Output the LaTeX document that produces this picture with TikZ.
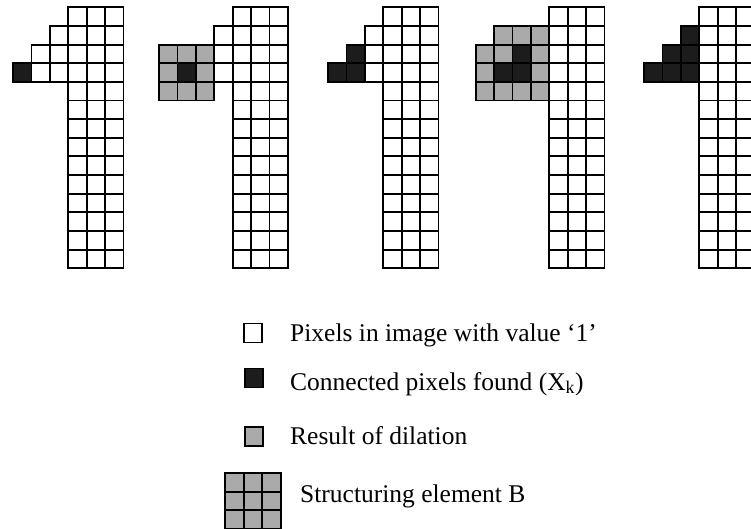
\documentclass[tikz,border=0pt]{standalone}
\usepackage{fontspec}
\setmainfont{Liberation Serif}
\definecolor{pxgray}{RGB}{170,170,170}
\definecolor{pxblack}{RGB}{28,28,28}
\tikzset{
  px/.style={draw=black, line width=1.9pt},
  wpx/.style={px, fill=white},
  gpx/.style={px, fill=pxgray},
  bpx/.style={px, fill=pxblack},
  lsq/.style={draw=black, line width=1.6pt},
  ltext/.style={anchor=base west, inner sep=0pt, font=\fontsize{25.5}{30}\selectfont},
}
\newcommand\pcell[4]{%
  \path[#4] ({#1+(#2)*18.4},{7.3+(#3)*18.64}) rectangle ++(18.4,18.64);%
}
\newcommand\baseshape[1]{%
  \foreach \r in {0,...,13}{\foreach \c in {0,1,2}{\pcell{#1}{\c}{\r}{wpx}}}%
  \pcell{#1}{-1}{1}{wpx}%
  \pcell{#1}{-2}{2}{wpx}\pcell{#1}{-1}{2}{wpx}%
  \pcell{#1}{-3}{3}{wpx}\pcell{#1}{-2}{3}{wpx}\pcell{#1}{-1}{3}{wpx}%
}
\begin{document}
\begin{tikzpicture}[x=1pt,y=-1pt]
\useasboundingbox (0,0) rectangle (751,529);
\clip (0,0) rectangle (751,529);
% Figure 1
\baseshape{68.3}
\pcell{68.3}{-3}{3}{bpx}
% Figure 2
\baseshape{232.7}
\foreach \r in {2,3,4}{\foreach \c in {-4,-3,-2}{\pcell{232.7}{\c}{\r}{gpx}}}
\pcell{232.7}{-3}{3}{bpx}
% Figure 3
\baseshape{383.3}
\pcell{383.3}{-2}{2}{bpx}
\pcell{383.3}{-3}{3}{bpx}\pcell{383.3}{-2}{3}{bpx}
% Figure 4
\baseshape{549.3}
\foreach \c in {-3,-2,-1}{\pcell{549.3}{\c}{1}{gpx}}
\foreach \r in {2,3,4}{\foreach \c in {-4,-3,-2,-1}{\pcell{549.3}{\c}{\r}{gpx}}}
\pcell{549.3}{-2}{2}{bpx}
\pcell{549.3}{-3}{3}{bpx}\pcell{549.3}{-2}{3}{bpx}
% Figure 5
\baseshape{699.3}
\pcell{699.3}{-1}{1}{bpx}
\pcell{699.3}{-2}{2}{bpx}\pcell{699.3}{-1}{2}{bpx}
\pcell{699.3}{-3}{3}{bpx}\pcell{699.3}{-2}{3}{bpx}\pcell{699.3}{-1}{3}{bpx}
% Legend
\path[lsq, fill=white] (244,323.5) rectangle ++(18,19);
\path[lsq, fill=pxblack] (245,368.5) rectangle ++(18,19);
\path[lsq, fill=pxgray] (245,427) rectangle ++(18,19);
\foreach \r in {0,1,2}{\foreach \c in {0,1,2}{%
  \path[px, fill=pxgray] ({225+\c*18.7},{473+\r*18.7}) rectangle ++(18.7,18.7);}}
\node[ltext] (t1) at (290,341) {Pixels in image with value ‘1’};
\node[ltext] (t2) at (290,390) {Connected pixels found (X\textsubscript{k})};
\node[ltext] (t3) at (290,444) {Result of dilation};
\node[ltext] (t4) at (300,502) {Structuring element B};
\end{tikzpicture}
\end{document}
